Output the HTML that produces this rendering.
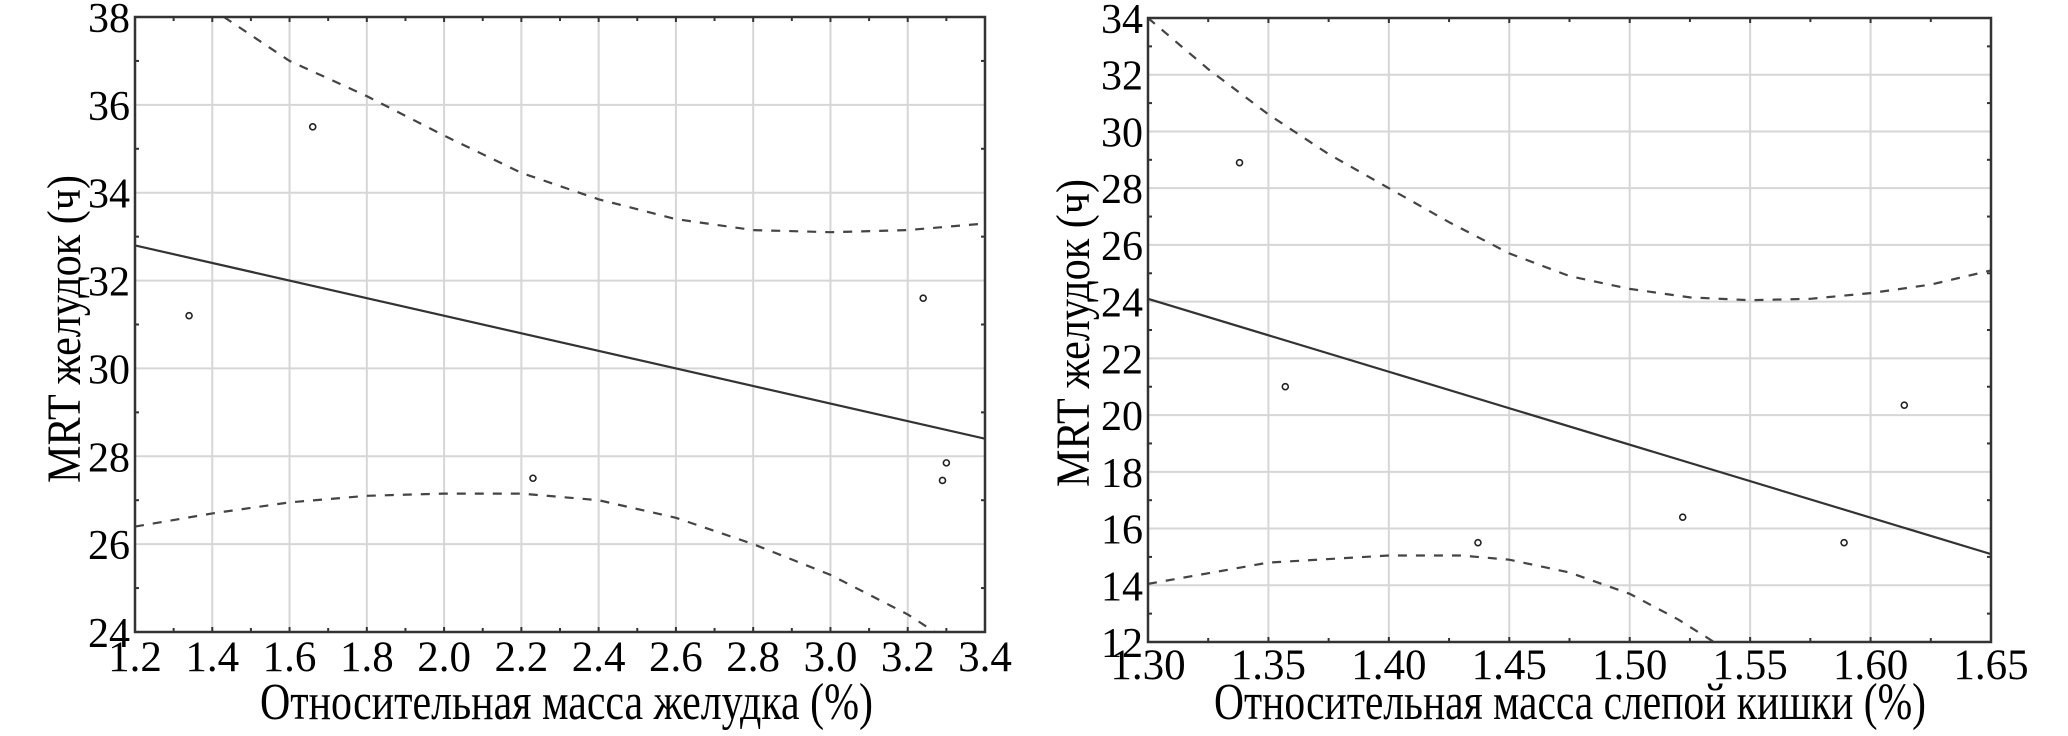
<!DOCTYPE html>
<html><head><meta charset="utf-8">
<style>
html,body{margin:0;padding:0;background:#fff;}
svg{display:block;}
text{font-family:"Liberation Serif","DejaVu Serif",serif;fill:#000;}
</style></head>
<body>
<svg id="chart" width="2068" height="736" viewBox="0 0 2068 736" xmlns="http://www.w3.org/2000/svg"></svg>
<script>
// ---- Left chart data ----
const leftXTicks = [1.2,1.4,1.6,1.8,2.0,2.2,2.4,2.6,2.8,3.0,3.2,3.4];
const leftXTickLabels = ["1.2","1.4","1.6","1.8","2.0","2.2","2.4","2.6","2.8","3.0","3.2","3.4"];
const leftYTicks = [24,26,28,30,32,34,36,38];
const leftYTickLabels = ["24","26","28","30","32","34","36","38"];
const leftPointsX = [1.34,1.66,2.23,3.24,3.30,3.29];
const leftPointsY = [31.2,35.5,27.5,31.6,27.85,27.45];
const leftFitX = [1.2,3.4];
const leftFitY = [32.8,28.4];
const leftUpperX = [1.43,1.6,1.8,2.0,2.2,2.4,2.6,2.8,3.0,3.2,3.4];
const leftUpperY = [38.0,37.0,36.2,35.3,34.45,33.85,33.4,33.15,33.1,33.15,33.3];
const leftLowerX = [1.2,1.4,1.6,1.8,2.0,2.2,2.4,2.6,2.8,3.0,3.2,3.27];
const leftLowerY = [26.4,26.7,26.95,27.1,27.15,27.15,27.0,26.6,26.0,25.3,24.4,24.0];

// ---- Right chart data ----
const rightXTicks = [1.30,1.35,1.40,1.45,1.50,1.55,1.60,1.65];
const rightXTickLabels = ["1.30","1.35","1.40","1.45","1.50","1.55","1.60","1.65"];
const rightYTicks = [12,14,16,18,20,22,24,26,28,30,32,34];
const rightYTickLabels = ["12","14","16","18","20","22","24","26","28","30","32","34"];
const rightPointsX = [1.338,1.357,1.437,1.522,1.589,1.614];
const rightPointsY = [28.9,21.0,15.5,16.4,15.5,20.35];
const rightFitX = [1.30,1.65];
const rightFitY = [24.1,15.1];
const rightUpperX = [1.30,1.325,1.35,1.375,1.40,1.425,1.45,1.475,1.50,1.525,1.55,1.575,1.60,1.625,1.65];
const rightUpperY = [34.0,32.2,30.6,29.2,28.0,26.8,25.7,24.9,24.45,24.15,24.05,24.1,24.3,24.6,25.1];
const rightLowerX = [1.30,1.35,1.40,1.43,1.45,1.475,1.50,1.52,1.535];
const rightLowerY = [14.05,14.8,15.05,15.05,14.9,14.45,13.7,12.8,12.0];

const NS="http://www.w3.org/2000/svg";
const svg=document.getElementById('chart');
function mk(tag,attrs,parent){const e=document.createElementNS(NS,tag);for(const k in attrs)e.setAttribute(k,attrs[k]);(parent||svg).appendChild(e);return e;}

function drawChart(cfg){
  const g=mk('g',{});
  
  
  const sx=v=>cfg.x0+(v-cfg.xmin)/(cfg.xmax-cfg.xmin)*(cfg.x1-cfg.x0);
  const sy=v=>cfg.y1-(v-cfg.ymin)/(cfg.ymax-cfg.ymin)*(cfg.y1-cfg.y0);
  const clip='clip-'+cfg.name;
  const cp=mk('clipPath',{id:clip},g);
  mk('rect',{x:cfg.x0,y:cfg.y0,width:cfg.x1-cfg.x0,height:cfg.y1-cfg.y0},cp);
  cfg.xTicks.forEach((t,i)=>{
    const l=mk('line',{x1:sx(t),x2:sx(t),y1:cfg.y0,y2:cfg.y1,stroke:'#d6d6d6','stroke-width':2},g);
    
    
    const tl=mk('text',{x:sx(t),y:cfg.tickBase,'font-size':43,'text-anchor':'middle'},g);
    tl.textContent=cfg.xLabels[i];
    
    
    if(i<cfg.xTicks.length-1){
      const m=(t+cfg.xTicks[i+1])/2;
      mk('line',{x1:sx(m),x2:sx(m),y1:cfg.y1,y2:cfg.y1-4,stroke:'#333','stroke-width':2},g);
      mk('line',{x1:sx(m),x2:sx(m),y1:cfg.y0,y2:cfg.y0+4,stroke:'#333','stroke-width':2},g);
    }
    mk('line',{x1:sx(t),x2:sx(t),y1:cfg.y1,y2:cfg.y1-5,stroke:'#333','stroke-width':2},g);
    mk('line',{x1:sx(t),x2:sx(t),y1:cfg.y0,y2:cfg.y0+5,stroke:'#333','stroke-width':2},g);
  });
  cfg.yTicks.forEach((t,i)=>{
    const l=mk('line',{x1:cfg.x0,x2:cfg.x1,y1:sy(t),y2:sy(t),stroke:'#d6d6d6','stroke-width':2},g);
    
    
    const tl=mk('text',{x:cfg.x0-5,y:sy(t)+15,'font-size':42,'text-anchor':'end'},g);
    tl.textContent=cfg.yLabels[i];
    
    
    if(i<cfg.yTicks.length-1){
      const m=(t+cfg.yTicks[i+1])/2;
      mk('line',{x1:cfg.x0,x2:cfg.x0+4,y1:sy(m),y2:sy(m),stroke:'#333','stroke-width':2},g);
      mk('line',{x1:cfg.x1,x2:cfg.x1-4,y1:sy(m),y2:sy(m),stroke:'#333','stroke-width':2},g);
    }
  });
  const pg=mk('g',{'clip-path':'url(#'+clip+')'},g);
  const path=(xs,ys)=>xs.map((x,i)=>(i?'L':'M')+sx(x).toFixed(1)+' '+sy(ys[i]).toFixed(1)).join(' ');
  const up=mk('path',{d:path(cfg.upX,cfg.upY),fill:'none',stroke:'#444','stroke-width':2.2,'stroke-dasharray':'9 9'},pg);
  
  
  const lo=mk('path',{d:path(cfg.loX,cfg.loY),fill:'none',stroke:'#444','stroke-width':2.2,'stroke-dasharray':'9 9'},pg);
  
  
  const fit=mk('path',{d:path(cfg.fitX,cfg.fitY),fill:'none',stroke:'#333','stroke-width':2.2},pg);
  
  
  cfg.px.forEach((x,i)=>{
    const c=mk('circle',{cx:sx(x),cy:sy(cfg.py[i]),r:3,fill:'none',stroke:'#222','stroke-width':1.6},pg);
    
    
  });
  const fr=mk('rect',{x:cfg.x0,y:cfg.y0,width:cfg.x1-cfg.x0,height:cfg.y1-cfg.y0,fill:'none',stroke:'#333','stroke-width':2.5},g);
  
  
  const xt=mk('text',{x:cfg.xtX,y:719,'font-size':52,textLength:cfg.xtW,lengthAdjust:'spacingAndGlyphs'},g);
  xt.textContent=cfg.xTitle;
  
  
  const yt=mk('text',{x:0,y:0,'font-size':48,textLength:308,lengthAdjust:'spacingAndGlyphs',transform:'translate('+cfg.ytX+','+cfg.ytY+') rotate(-90)'},g);
  yt.textContent='MRT желудок (ч)';
  
  
}

drawChart({name:'stomach-chart',x0:135,x1:985,y0:17,y1:632,xmin:1.2,xmax:3.4,ymin:24,ymax:38,
  xTicks:leftXTicks,xLabels:leftXTickLabels,yTicks:leftYTicks,yLabels:leftYTickLabels,
  px:leftPointsX,py:leftPointsY,fitX:leftFitX,fitY:leftFitY,upX:leftUpperX,upY:leftUpperY,loX:leftLowerX,loY:leftLowerY,
  tickBase:671,xTitle:'Относительная масса желудка (%)',xtX:260,xtW:613,ytX:80,ytY:483});
drawChart({name:'cecum-chart',x0:1148,x1:1991,y0:18,y1:642,xmin:1.30,xmax:1.65,ymin:12,ymax:34,
  xTicks:rightXTicks,xLabels:rightXTickLabels,yTicks:rightYTicks,yLabels:rightYTickLabels,
  px:rightPointsX,py:rightPointsY,fitX:rightFitX,fitY:rightFitY,upX:rightUpperX,upY:rightUpperY,loX:rightLowerX,loY:rightLowerY,
  tickBase:679,xTitle:'Относительная масса слепой кишки (%)',xtX:1214,xtW:712,ytX:1089,ytY:487});
</script>
</body></html>
